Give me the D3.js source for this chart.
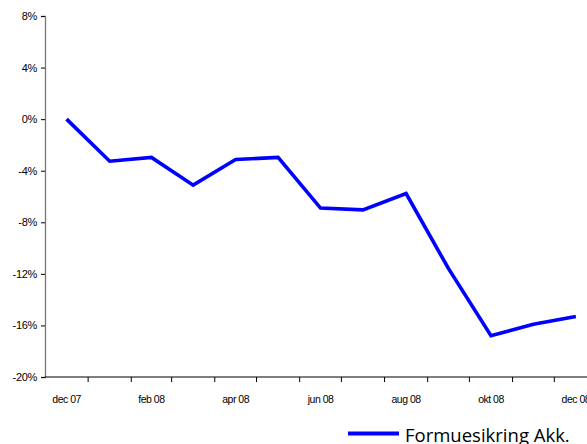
<!DOCTYPE html>
<html><head><meta charset="utf-8">
<script src="https://cdn.jsdelivr.net/npm/d3@7"></script>
<style>body{margin:0;background:#fff;} svg{display:block;}</style>
</head><body>
<script>
const months = ["2007-12","2008-01","2008-02","2008-03","2008-04","2008-05","2008-06","2008-07","2008-08","2008-09","2008-10","2008-11","2008-12"];
const values = [0, -3.26, -2.97, -5.12, -3.13, -2.97, -6.9, -7.04, -5.77, -11.6, -16.8, -15.9, -15.3];
const yTicks = [8, 4, 0, -4, -8, -12, -16, -20];
const xLabels = ["dec 07","feb 08","apr 08","jun 08","aug 08","okt 08","dec 08"];
const seriesName = "Formuesikring Akk.";

const W = 587, H = 444;
const svg = d3.select("body").append("svg").attr("width", W).attr("height", H);
const parse = d3.timeParse("%Y-%m");
const dates = months.map(parse);
const start = dates[0];
const endTick = dates[dates.length-1];
const x = d3.scaleTime().domain([start, endTick]).range([45, 554.3]);
const y = d3.scaleLinear().domain([-20, 8]).range([377, 16]);
const mid = d => new Date((d.getTime() + d3.timeMonth.offset(d,1).getTime())/2);

// y axis
const gy = svg.append("g").attr("transform","translate(45,0)")
  .call(d3.axisLeft(y).tickValues(yTicks).tickFormat(d => d + "%").tickSize(4).tickPadding(4));
gy.select(".domain").attr("stroke","#777").attr("stroke-width",1.3);
gy.selectAll(".tick line").attr("stroke","#000");
gy.selectAll("text").attr("font-family","Liberation Sans, Arial, sans-serif").attr("font-size",11).attr("letter-spacing",-0.3).attr("fill","#000");

// x axis
const axisEnd = x(d3.timeMonth.offset(endTick,1));
const gx = svg.append("g").attr("transform","translate(0,377)");
gx.append("line").attr("x1",45).attr("x2",Math.max(axisEnd,W)).attr("stroke","#000").attr("stroke-width",1.2);
const tickDates = d3.timeMonth.range(start, d3.timeMonth.offset(endTick,1)).concat([d3.timeMonth.offset(endTick,1)]);
gx.selectAll("line.tk").data(tickDates.slice(1)).join("line").attr("class","tk")
  .attr("x1",d=>x(d)).attr("x2",d=>x(d)).attr("y1",0).attr("y2",5).attr("stroke","#000");
const labelDates = dates.filter((d,i)=> i%2===0);
gx.selectAll("text").data(labelDates).join("text")
  .attr("x",d=>x(mid(d))).attr("y",26).attr("text-anchor","middle")
  .attr("font-family","Liberation Sans, Arial, sans-serif").attr("font-size",10.5).attr("letter-spacing",-0.5)
  .text((d,i)=>xLabels[i]);

// line
const line = d3.line().x((d,i)=>x(mid(dates[i]))).y(d=>y(d));
svg.append("path").datum(values).attr("d",line).attr("fill","none")
  .attr("stroke","#0000ff").attr("stroke-width",3.6).attr("stroke-linejoin","miter");

// legend
svg.append("line").attr("x1",348).attr("x2",399).attr("y1",433.5).attr("y2",433.5)
  .attr("stroke","#0000ff").attr("stroke-width",4);
svg.append("text").attr("x",405).attr("y",442).attr("font-family","Open Sans, sans-serif")
  .attr("font-size",18.5).attr("fill","#000").text(seriesName);
</script>
</body></html>
